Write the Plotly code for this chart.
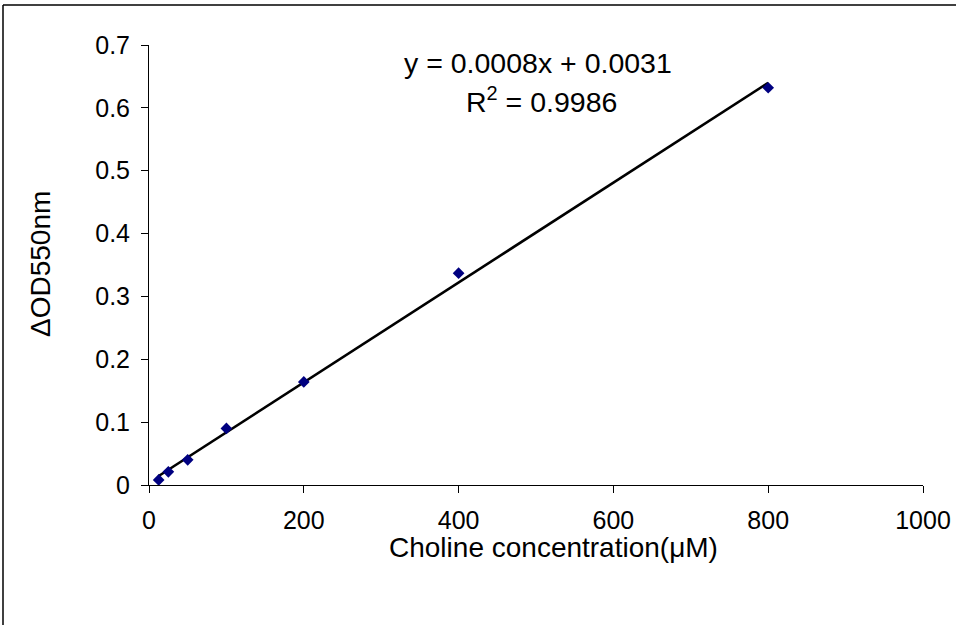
import numpy as np
import plotly.graph_objects as go

# Data
concentration = [12.5, 25, 50, 100, 200, 400, 800]
delta_od = [0.008, 0.021, 0.040, 0.090, 0.164, 0.337, 0.632]
x_ticks = [0, 200, 400, 600, 800, 1000]
y_ticks = [0, 0.1, 0.2, 0.3, 0.4, 0.5, 0.6, 0.7]
y_tick_labels = ["0", "0.1", "0.2", "0.3", "0.4", "0.5", "0.6", "0.7"]
eq_line1 = "y = 0.0008x + 0.0031"
eq_line2 = "R<sup>2</sup> = 0.9986"

slope, intercept = np.polyfit(concentration, delta_od, 1)
fit_x = [min(concentration), max(concentration)]
fit_y = [slope * v + intercept for v in fit_x]

FONT = "Liberation Sans, Arial, sans-serif"

fig = go.Figure()
fig.add_trace(go.Scatter(x=fit_x, y=fit_y, mode="lines",
                         line=dict(color="black", width=2.6),
                         showlegend=False, hoverinfo="skip"))
fig.add_trace(go.Scatter(x=concentration, y=delta_od, mode="markers",
                         marker=dict(symbol="diamond", size=9, color="#000080"),
                         showlegend=False))

L, R, T, B = 149, 33, 45, 140
W, H = 956, 625
pw, ph = W - L - R, H - T - B

def px(xp):
    return (xp - L) / pw

def py(yp):
    return (H - B - yp) / ph

fig.update_layout(
    width=W, height=H, autosize=False,
    margin=dict(l=L, r=R, t=T, b=B, pad=0, autoexpand=False),
    paper_bgcolor="white", plot_bgcolor="white",
    font=dict(family=FONT, size=25, color="black"),
    showlegend=False,
    xaxis=dict(range=[0, 1000], tickvals=x_ticks, showgrid=False, zeroline=False,
               showline=True, linecolor="black", linewidth=1, automargin=False,
               ticks="outside", ticklen=7, tickcolor="black",
               tickfont=dict(size=25), ticklabelstandoff=6),
    yaxis=dict(range=[0, 0.7], tickvals=y_ticks, ticktext=y_tick_labels,
               showgrid=False, zeroline=False, automargin=False,
               showline=True, linecolor="black", linewidth=1,
               ticks="outside", ticklen=7, tickcolor="black",
               tickfont=dict(size=25), ticklabelstandoff=6),
    annotations=[
        dict(text="Choline concentration(μM)", xref="paper", yref="paper",
             x=px(553), y=py(547), showarrow=False, font=dict(size=28),
             xanchor="center", yanchor="middle"),
        dict(text="ΔOD550nm", xref="paper", yref="paper",
             x=px(40), y=py(264), showarrow=False, font=dict(size=28),
             textangle=-90, xanchor="center", yanchor="middle"),
        dict(text=eq_line1, xref="paper", yref="paper",
             x=px(538), y=py(63), showarrow=False, font=dict(size=28.5),
             xanchor="center", yanchor="middle"),
        dict(text=eq_line2, xref="paper", yref="paper",
             x=px(541), y=py(100), showarrow=False, font=dict(size=28.5),
             xanchor="center", yanchor="middle"),
    ],
    shapes=[
        dict(type="line", xref="paper", yref="paper",
             x0=px(3), x1=px(956), y0=py(5), y1=py(5),
             line=dict(color="black", width=1.5)),
        dict(type="line", xref="paper", yref="paper",
             x0=px(3), x1=px(3), y0=py(5), y1=py(625),
             line=dict(color="black", width=1.5)),
    ],
)

fig.write_html("out.html", config={"displayModeBar": False},
               post_script="document.body.style.margin='0';document.body.style.overflow='hidden';")
